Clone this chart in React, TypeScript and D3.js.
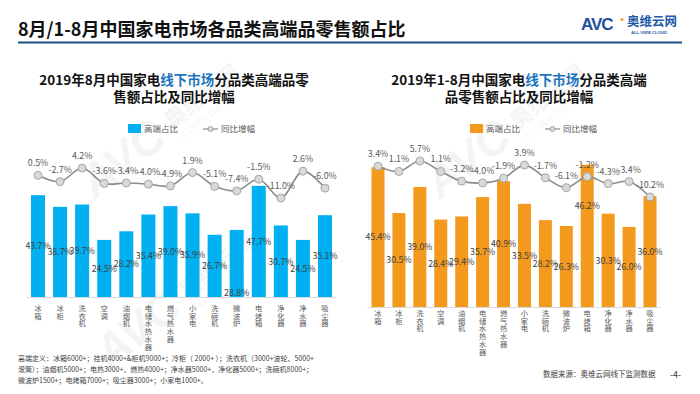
import React from 'react'
import * as d3 from 'd3'

// categories and values
const categories = ['冰箱', '冰柜', '洗衣机', '空调', '油烟机', '电储水热水器', '燃气热水器', '小家电', '洗碗机', '微波炉', '电烤箱', '净化器', '净水器', '吸尘器']
const augShare = [43.7, 38.7, 39.7, 24.5, 28.2, 35.4, 39.0, 35.9, 26.7, 28.8, 47.7, 30.7, 24.5, 35.1]
const augGrowth = [0.5, -2.7, 4.2, -3.6, -3.4, -4.0, -4.9, 1.9, -5.1, -7.4, -1.5, -11.0, 2.6, -6.0]
const ytdShare = [45.4, 30.5, 39.0, 28.4, 29.4, 35.7, 40.9, 33.5, 28.2, 26.3, 46.2, 30.3, 26.0, 36.0]
const ytdGrowth = [3.4, 1.1, 5.7, 1.1, -3.2, -4.0, -1.9, 3.9, -1.7, -6.1, -1.2, -4.3, -3.4, -10.2]
const legendNames = ['高端占比', '同比增幅']

const footnote = [
  '高端定义：冰箱6000+；挂机4000+&柜机9000+；冷柜（ 2000+ ）；洗衣机（3000+波轮、5000+',
  '滚筒）；油烟机5000+；电热3000+，燃热4000+；净水器5000+，净化器5000+；洗碗机8000+；',
  '微波炉1500+；电烤箱7000+；吸尘器3000+；小家电1000+。',
]

const FONT = '"Noto Sans CJK SC", "Noto Sans", sans-serif'

interface ChartProps {
  share: number[]
  growth: number[]
  color: string
  titleA: string
  titleB: string
  titleC: string
  title2: string
  cx: number
  xRange: [number, number]
  barW: number
  baseY: number
  pxPerPct: number
  lineZero: number
  linePx: number
  legendX: number
  catY: number
  labelFrac: (i: number) => number
}

const Chart: React.FC<ChartProps> = p => {
  const x = d3.scalePoint<string>().domain(categories).range(p.xRange)
  const yBar = d3.scaleLinear().domain([0, 50]).range([p.baseY, p.baseY - 50 * p.pxPerPct])
  const yLine = d3.scaleLinear().domain([0, 10]).range([p.lineZero, p.lineZero - 10 * p.linePx])
  const line = d3
    .line<number>()
    .x((_, i) => x(categories[i]) as number)
    .y(d => yLine(d))
    .curve(d3.curveCatmullRom.alpha(0.5))
  const step = x.step()
  const ly = 129
  return (
    <g>
      <text x={p.cx} y={85} textAnchor="middle" fontSize={13.5} fontWeight="bold" fill="#111">
        {p.titleA}
        <tspan fill="#1b75bc">{p.titleB}</tspan>
        {p.titleC}
      </text>
      <text x={p.cx} y={102} textAnchor="middle" fontSize={13.5} fontWeight="bold" fill="#111">
        {p.title2}
      </text>

      {/* legend */}
      <rect x={p.legendX} y={ly - 5} width={13} height={9} fill={p.color} />
      <text x={p.legendX + 16} y={ly + 3} fontSize={8.5} fill="#595959">{legendNames[0]}</text>
      <line x1={p.legendX + 75} x2={p.legendX + 90} y1={ly} y2={ly} stroke="#8c8c8c" strokeWidth={1.2} />
      <circle cx={p.legendX + 82.5} cy={ly} r={2.5} fill="#e0e0e0" stroke="#8c8c8c" strokeWidth={0.8} />
      <text x={p.legendX + 93} y={ly + 3} fontSize={8.5} fill="#595959">{legendNames[1]}</text>

      {/* bars */}
      {p.share.map((v, i) => {
        const cx = x(categories[i]) as number
        return (
          <rect key={i} x={cx - p.barW / 2} y={yBar(v)} width={p.barW} height={yBar(0) - yBar(v)} fill={p.color} />
        )
      })}
      <line x1={p.xRange[0] - step / 2} x2={p.xRange[1] + step / 2} y1={p.baseY + 0.5} y2={p.baseY + 0.5} stroke="#d9d9d9" strokeWidth={1} />
      {p.share.map((v, i) => {
        const cx = x(categories[i]) as number
        const top = yBar(v)
        const yy = top + (yBar(0) - top) * p.labelFrac(i) + 3.3
        return (
          <text key={i} x={cx} y={yy} textAnchor="middle" fontSize={8.8} fill="#404040">
            {v.toFixed(1)}%
          </text>
        )
      })}

      {/* category labels, one glyph per row */}
      {categories.map((c, i) => (
        <g key={c}>
          {c.split('').map((ch, k) => (
            <text key={k} x={x(c) as number} y={p.catY + k * 7.7} textAnchor="middle" fontSize={7.3} fill="#595959">
              {ch}
            </text>
          ))}
        </g>
      ))}

      {/* growth line */}
      <path d={line(p.growth) || ''} fill="none" stroke="#8c8c8c" strokeWidth={1.6} />
      {p.growth.map((v, i) => (
        <circle key={i} cx={x(categories[i]) as number} cy={yLine(v)} r={4} fill="#d9d9d9" stroke="#a6a6a6" strokeWidth={1} />
      ))}
      {p.growth.map((v, i) => (
        <text key={i} x={x(categories[i]) as number} y={yLine(v) - 9} textAnchor="middle" fontSize={8.8} fill="#595959">
          {v.toFixed(1)}%
        </text>
      ))}
    </g>
  )
}

const Watermark: React.FC<{ x: number; y: number }> = ({ x, y }) => (
  <g transform={`translate(${x},${y}) rotate(-38)`} opacity={0.04}>
    <text x={0} y={0} fontSize={46} fontWeight="bold" fontStyle="italic" fill="#000" fontFamily="Liberation Sans, sans-serif">AVC</text>
    <text x={104} y={-8} fontSize={22} fontWeight="bold" fill="#000">奥维云网</text>
    <text x={106} y={6} fontSize={8} fill="#000">ALL VIEW CLOUD</text>
  </g>
)

const App: React.FC = () => {
  return (
    <svg width={700} height={394} style={{ position: 'absolute', left: 0, top: 0, background: '#fff' }} fontFamily={FONT}>
      <rect width={700} height={394} fill="#fff" />
      <Watermark x={95} y={200} />
      <Watermark x={440} y={200} />
      <Watermark x={110} y={370} />

      <text x={18} y={36} fontSize={18} fontWeight="bold" fill="#111">8月/1-8月中国家电市场各品类高端品零售额占比</text>
      <line x1={18} x2={682} y1={42.5} y2={42.5} stroke="#1f4e8c" strokeWidth={2} />

      {/* logo */}
      <text x={581} y={30} fontSize={17} fontWeight="bold" fill="#1e4f9c" fontFamily="Liberation Sans, sans-serif" letterSpacing={-1}>AVC</text>
      <circle cx={622} cy={19.5} r={1.5} fill="#f39c1e" />
      <text x={627} y={26} fontSize={12.5} fontWeight="bold" fill="#1e5aa8">奥维云网</text>
      <text x={631} y={34} fontSize={4.2} fontWeight="bold" fill="#1e5aa8" fontFamily="Liberation Sans, sans-serif">ALL VIEW CLOUD</text>

      <Chart
        share={augShare}
        growth={augGrowth}
        color="#00b0f0"
        titleA="2019年8月中国家电"
        titleB="线下市场"
        titleC="分品类高端品零"
        title2="售额占比及同比增幅"
        cx={174}
        xRange={[38, 325]}
        barW={14}
        baseY={297}
        pxPerPct={2.33}
        lineZero={176.3}
        linePx={1.97}
        legendX={128}
        catY={311}
        labelFrac={i => (categories[i] === '微波炉' ? 0.93 : 0.5)}
      />
      <Chart
        share={ytdShare}
        growth={ytdGrowth}
        color="#f39a1e"
        titleA="2019年1-8月中国家电"
        titleB="线下市场"
        titleC="分品类高端"
        title2="品零售额占比及同比增幅"
        cx={519}
        xRange={[378, 650]}
        barW={13}
        baseY={307}
        pxPerPct={3.08}
        lineZero={173.9}
        linePx={2.26}
        legendX={470}
        catY={316}
        labelFrac={i => (categories[i] === '电烤箱' ? 0.29 : 0.5)}
      />

      {footnote.map((t, i) => (
        <text key={i} x={18} y={361 + i * 11} fontSize={7} fill="#404040">{t}</text>
      ))}
      <text x={543} y={377} fontSize={7.5} fill="#404040">数据来源：奥维云网线下监测数据</text>
      <text x={670} y={378} fontSize={9} fill="#404040">-4-</text>
    </svg>
  )
}

export default App
